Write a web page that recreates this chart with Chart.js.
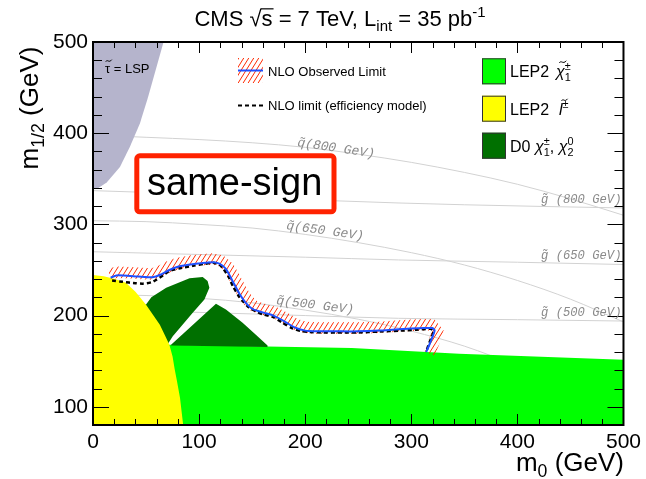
<!DOCTYPE html>
<html><head><meta charset="utf-8">
<script src="https://cdn.jsdelivr.net/npm/chart.js@4.4.1/dist/chart.umd.min.js"></script>
<style>html,body{margin:0;padding:0;background:#fff;}#wrap{width:646px;height:479px;}</style>
</head><body><div id="wrap"><canvas id="c" width="646" height="479"></canvas></div>
<script>
const FONT = '"Liberation Sans", Arial, Helvetica, sans-serif';
const MONO = '"Liberation Mono", "Courier New", monospace';

// ---- axes / ticks ----
const xTickLabels = [0, 100, 200, 300, 400, 500];
const yTickLabels = [100, 200, 300, 400, 500];
const xMinorTicks = [0,20,40,60,80,100,120,140,160,180,200,220,240,260,280,300,320,340,360,380,400,420,440,460,480,500];
const yMinorTicks = [80,100,120,140,160,180,200,220,240,260,280,300,320,340,360,380,400,420,440,460,480,500];

// ---- regions (m0, m1/2 in GeV) ----
const stauM0  = [0, 67.7, 60, 52, 44.2, 34.8, 25.4, 12.9, 5, 0];
const stauM12 = [505, 505, 473, 440, 410.6, 385, 363, 346, 340, 338.5];

const lepSlepM0  = [0, 0, 10, 20, 31, 40, 50, 57, 63, 68, 72, 75, 77, 79, 82, 85, 85];
const lepSlepM12 = [78, 244.5, 243, 240.5, 236, 226, 212, 200, 190, 178, 168, 155, 141, 129, 110, 80, 78];

const lepChiM0  = [62, 72, 244, 345, 500, 505, 505, 70];
const lepChiM12 = [168.5, 168, 164.4, 158.1, 151.5, 151.3, 78, 78];

const d0aM0  = [45, 50, 55, 69, 91, 103.4, 108, 109.7, 105, 94, 75.2, 70.5, 60];
const d0aM12 = [212, 212.1, 220.2, 230.5, 240.8, 242.2, 237.8, 230.5, 217.6, 203, 177.2, 168.8, 172];
const d0bM0  = [73.6, 115.9, 125.3, 141, 153.5, 164.5, 164.5, 73.6];
const d0bM12 = [168, 212.9, 206.6, 192, 179, 167.3, 165.5, 167.2];

// ---- limits ----
const obsM0  = [16.6, 22, 35, 50, 56, 63, 72, 80, 92, 102, 113, 119, 125, 131.5, 138, 144, 150, 157, 163, 170, 180, 190, 200, 210, 230, 250, 270, 285, 300, 312, 320, 322, 320, 317, 314];
const obsM12 = [241.5, 244, 243.5, 242.2, 242, 244.5, 250, 253.5, 256, 257.5, 258.5, 257, 251.5, 238, 224, 214, 207.5, 204.5, 202.5, 200, 194, 187, 183.5, 182.8, 182.7, 182.7, 183.5, 184.8, 185.8, 186.3, 186.3, 183.7, 177, 168, 160];
const effM0  = [18, 28, 40, 47, 55, 60, 66, 72, 82, 94, 104, 113, 119, 123, 128, 132, 137, 141, 147, 153.5, 161, 169, 178, 188, 196, 204, 215, 230, 250, 270, 290, 305, 318, 321, 319, 316, 314];
const effM12 = [238.5, 237, 235.5, 235, 236.5, 239.5, 244, 249, 252, 254.5, 256.5, 258, 256, 251, 242, 232, 222, 216, 209, 204.7, 201, 199, 192.5, 186, 183, 182, 181.5, 181.5, 181.5, 182.5, 183.5, 184.5, 185.5, 183, 176, 167, 160];

// ---- iso-mass contours ----
const sq800M0  = [30, 50, 100, 150, 200, 250, 300, 350, 400, 450, 500];
const sq800M12 = [396.5, 395.5, 393, 389.5, 384.5, 377, 368, 357, 344, 328, 310];
const sq650M0  = [0, 50, 100, 150, 200, 250, 300, 350, 400, 450, 500];
const sq650M12 = [304, 303, 300, 296, 289, 280, 269, 255.5, 238.5, 218, 193];
const sq500M0  = [0, 50, 100, 150, 200, 250, 300, 350, 400];
const sq500M12 = [223, 222, 219, 214, 206, 196, 183, 166.5, 145];
const gl800M0  = [0, 100, 225, 350, 500];
const gl800M12 = [337, 333, 326, 321.5, 318];
const gl650M0  = [0, 100, 200, 288, 400, 500];
const gl650M12 = [270, 267, 264, 261, 258.5, 256];
const gl500M0  = [0, 100, 200, 288, 400, 500];
const gl500M12 = [206, 203.5, 200, 197, 195.5, 194];

const pts = (a, b) => a.map((v, i) => ({x: v, y: b[i]}));

const hatchTile = (() => {
  const c = document.createElement('canvas'); c.width = 5; c.height = 8;
  const g = c.getContext('2d');
  g.strokeStyle = '#ff2a00'; g.lineWidth = 1;
  g.beginPath();
  for (const k of [-1, 0, 1]) { g.moveTo(5 * k, 8); g.lineTo(5 * k + 5, 0); }
  g.stroke();
  return c;
})();

function drawTilde(ctx, x, y, w) {
  ctx.save(); ctx.lineWidth = 1; ctx.strokeStyle = ctx.fillStyle;
  ctx.beginPath();
  ctx.moveTo(x, y + 1);
  ctx.bezierCurveTo(x + w * 0.3, y - 2, x + w * 0.5, y + 3, x + w, y - 1);
  ctx.stroke(); ctx.restore();
}

function drawRich(ctx, parts, x, y, size, align, fam) {
  fam = fam || FONT;
  const small = size * 0.68;
  const ws = parts.map(p => {
    ctx.font = (p.it ? 'italic ' : '') + size + 'px ' + fam;
    const w = p.t ? ctx.measureText(p.t).width : 0;
    ctx.font = small + 'px ' + fam;
    let s = 0;
    if (p.sub) s = Math.max(s, ctx.measureText(p.sub).width);
    if (p.sup) s = Math.max(s, ctx.measureText(p.sup).width);
    return {w, s};
  });
  const total = ws.reduce((a, b) => a + b.w + b.s, 0);
  let cx = align === 'center' ? x - total / 2 : align === 'right' ? x - total : x;
  ctx.textAlign = 'left'; ctx.textBaseline = 'alphabetic';
  parts.forEach((p, i) => {
    if (p.t) {
      ctx.font = (p.it ? 'italic ' : '') + size + 'px ' + fam;
      ctx.fillText(p.t, cx, y);
      if (p.over) {
        ctx.save(); ctx.lineWidth = 1.2; ctx.strokeStyle = ctx.fillStyle;
        ctx.beginPath(); ctx.moveTo(cx - 1, y - size * 0.78); ctx.lineTo(cx + ws[i].w + 1, y - size * 0.78); ctx.stroke();
        ctx.restore();
      }
      if (p.tilde) drawTilde(ctx, cx + ws[i].w * 0.15 + (p.it ? 2 : 0), y - size * p.tilde, Math.max(6, ws[i].w * 0.8));
      cx += ws[i].w;
    }
    ctx.font = small + 'px ' + fam;
    if (p.sub) ctx.fillText(p.sub, cx, y + size * 0.24);
    if (p.sup) ctx.fillText(p.sup, cx, y - size * 0.42);
    cx += ws[i].s;
  });
}

const hatchPlugin = {
  id: 'hatch',
  beforeDatasetDraw(chart, args) {
    if (chart.data.datasets[args.index].label !== 'NLO limit (efficiency model)') return;
    const {ctx, chartArea: a, scales: {x, y}} = chart;
    const P = obsM0.map((m, i) => ({x: x.getPixelForValue(m), y: y.getPixelForValue(obsM12[i])}));
    const N = P.map((p, i) => {
      const s = P[Math.max(0, i - 1)], e = P[Math.min(P.length - 1, i + 1)];
      const dx = e.x - s.x, dy = e.y - s.y, l = Math.hypot(dx, dy) || 1;
      return {x: dy / l, y: -dx / l};
    });
    ctx.save();
    ctx.beginPath(); ctx.rect(a.left, a.top, a.right - a.left, a.bottom - a.top); ctx.clip();
    ctx.beginPath();
    P.forEach((p, i) => { const X = p.x - N[i].x * 2.5, Y = p.y - N[i].y * 2.5; i ? ctx.lineTo(X, Y) : ctx.moveTo(X, Y); });
    for (let i = P.length - 1; i >= 0; i--) ctx.lineTo(P[i].x + N[i].x * 9, P[i].y + N[i].y * 9);
    ctx.closePath();
    ctx.fillStyle = ctx.createPattern(hatchTile, 'repeat');
    ctx.fill();
    ctx.restore();
  }
};

const framePlugin = {
  id: 'frame',
  afterDatasetsDraw(chart) {
    const {ctx, chartArea: a, scales: {x, y}} = chart;
    ctx.save();
    ctx.strokeStyle = '#000';
    ctx.lineWidth = 1;
    ctx.beginPath();
    xMinorTicks.forEach(v => {
      const px = Math.round(x.getPixelForValue(v)) + 0.5, L = v % 100 === 0 ? 11 : 6;
      ctx.moveTo(px, a.bottom); ctx.lineTo(px, a.bottom - L);
      ctx.moveTo(px, a.top); ctx.lineTo(px, a.top + L);
    });
    yMinorTicks.forEach(v => {
      const py = Math.round(y.getPixelForValue(v)) + 0.5, L = v % 100 === 0 ? 16 : 9;
      ctx.moveTo(a.left, py); ctx.lineTo(a.left + L, py);
      ctx.moveTo(a.right, py); ctx.lineTo(a.right - L, py);
    });
    ctx.stroke();
    ctx.lineWidth = 2;
    ctx.strokeRect(a.left, a.top, a.right - a.left, a.bottom - a.top);
    ctx.restore();
  }
};

const textPlugin = {
  id: 'texts',
  afterDraw(chart) {
    const ctx = chart.ctx;
    ctx.save();
    // iso-mass labels
    ctx.fillStyle = '#8a8a8a';
    const iso = [
      ['q\u0303(800 GeV)', 297, 146, 8.5, 13],
      ['q\u0303(650 GeV)', 286, 229, 8, 13],
      ['q\u0303(500 GeV)', 276, 304, 7, 13],
      ['g\u0303 (800 GeV)', 541, 203, 0, 12.2],
      ['g\u0303 (650 GeV)', 541, 259, 0, 12.2],
      ['g\u0303 (500 GeV)', 541, 316, 0, 12.2]
    ];
    iso.forEach(([t, X, Y, r, fs]) => {
      ctx.save(); ctx.translate(X, Y); ctx.rotate(r * Math.PI / 180);
      ctx.font = 'italic ' + fs + 'px ' + MONO; ctx.textAlign = 'left'; ctx.textBaseline = 'alphabetic';
      ctx.fillText(t, 0, 0); ctx.restore();
    });
    // stau label
    ctx.fillStyle = '#000';
    drawRich(ctx, [{t: '\u03C4', tilde: 0.95}, {t: ' = LSP'}], 105, 73, 13, 'left');
    // same-sign box
    ctx.fillStyle = '#fff'; ctx.strokeStyle = '#ff2200'; ctx.lineWidth = 5;
    ctx.beginPath(); ctx.roundRect(136.8, 155.8, 197.2, 56, 3); ctx.fill(); ctx.stroke();
    ctx.fillStyle = '#000'; ctx.font = '38px ' + FONT; ctx.textAlign = 'left'; ctx.textBaseline = 'alphabetic';
    ctx.fillText('same-sign', 147, 195);
    // middle legend
    ctx.fillStyle = ctx.createPattern(hatchTile, 'repeat');
    ctx.fillRect(238, 58, 25, 25);
    ctx.strokeStyle = '#1f4fff'; ctx.lineWidth = 2;
    ctx.beginPath(); ctx.moveTo(238, 70.5); ctx.lineTo(263, 70.5); ctx.stroke();
    ctx.strokeStyle = '#000'; ctx.lineWidth = 2; ctx.setLineDash([4, 3]);
    ctx.beginPath(); ctx.moveTo(238, 105.5); ctx.lineTo(263, 105.5); ctx.stroke();
    ctx.setLineDash([]);
    ctx.fillStyle = '#000'; ctx.font = '13px ' + FONT;
    ctx.fillText('NLO Observed Limit', 268, 76);
    ctx.fillText('NLO limit (efficiency model)', 268, 110);
    // right legend
    const boxes = [['#00ff00', 58.3], ['#ffff00', 95.7], ['#007000', 132.7]];
    boxes.forEach(([c, Y]) => {
      ctx.fillStyle = c; ctx.fillRect(482, Y, 24, 26);
      ctx.strokeStyle = '#333'; ctx.lineWidth = 1; ctx.strokeRect(482.5, Y + 0.5, 23, 25);
    });
    ctx.fillStyle = '#000';
    drawRich(ctx, [{t: 'LEP2'}], 510, 77, 16, 'left');
    drawRich(ctx, [{t: '\u03C7', it: true, tilde: 0.95, sub: '1', sup: '\u00B1'}], 556, 77, 16, 'left');
    drawRich(ctx, [{t: 'LEP2'}], 510, 115, 16, 'left');
    drawRich(ctx, [{t: 'l', it: true, tilde: 0.95, sup: '\u00B1'}], 559, 115, 16, 'left');
    drawRich(ctx, [{t: 'D0'}], 510, 152, 16, 'left');
    drawRich(ctx, [{t: '\u03C7', it: true, sub: '1', sup: '\u00B1'}, {t: ', '}, {t: '\u03C7', it: true, sub: '2', sup: '0'}], 535, 152, 16, 'left');
    // title
    drawRich(ctx, [{t: 'CMS '}, {t: '\u221A'}, {t: 's', over: true}, {t: ' = 7 TeV, L', sub: 'int'}, {t: ' = 35 pb', sup: '-1'}], 340, 26, 22, 'center');
    // axis titles
    drawRich(ctx, [{t: 'm', sub: '0'}, {t: ' (GeV)'}], 624, 471, 26, 'right');
    ctx.save(); ctx.translate(38, 108); ctx.rotate(-Math.PI / 2);
    drawRich(ctx, [{t: 'm', sub: '1/2'}, {t: ' (GeV)'}], 0, 0, 26, 'center');
    ctx.restore();
    ctx.restore();
  }
};

const bgPlugin = {
  id: 'bg',
  beforeDraw(chart) { const c = chart.ctx; c.save(); c.fillStyle = '#fff'; c.fillRect(0, 0, chart.width, chart.height); c.restore(); }
};

const poly = (label, a, b, color, order) => ({label, data: pts(a, b), fill: 'shape', backgroundColor: color, borderWidth: 0, pointRadius: 0, tension: 0, order});
const iso = (label, a, b) => ({label, data: pts(a, b), fill: false, borderColor: '#d2d2d2', borderWidth: 1, pointRadius: 0, cubicInterpolationMode: 'monotone', order: 10});

new Chart(document.getElementById('c'), {
  type: 'line',
  data: {
    datasets: [
      {label: 'NLO Observed Limit', data: pts(obsM0, obsM12), borderColor: '#1f4fff', borderWidth: 2, pointRadius: 0, tension: 0.25, fill: false, order: 1},
      {label: 'NLO limit (efficiency model)', data: pts(effM0, effM12), borderColor: '#000', borderWidth: 2.5, borderDash: [4, 3], pointRadius: 0, tension: 0.25, fill: false, order: 2},
      poly('LEP2 slepton', lepSlepM0, lepSlepM12, '#ffff00', 4),
      poly('D0 a', d0aM0, d0aM12, '#007000', 5),
      poly('D0 b', d0bM0, d0bM12, '#007000', 5),
      poly('LEP2 chargino', lepChiM0, lepChiM12, '#00ff00', 7),
      poly('stau LSP', stauM0, stauM12, '#b5b4cc', 8),
      iso('sq800', sq800M0, sq800M12),
      iso('sq650', sq650M0, sq650M12),
      iso('sq500', sq500M0, sq500M12),
      iso('gl800', gl800M0, gl800M12),
      iso('gl650', gl650M0, gl650M12),
      iso('gl500', gl500M0, gl500M12)
    ]
  },
  options: {
    responsive: false, animation: false, devicePixelRatio: 1, events: [],
    layout: {padding: {top: 42, right: 20, left: 0, bottom: 0}},
    plugins: {legend: {display: false}, tooltip: {enabled: false}},
    scales: {
      x: {type: 'linear', min: 0, max: 500,
        afterBuildTicks: s => { s.ticks = xTickLabels.map(v => ({value: v})); },
        afterFit: s => { s.height = 54; },
        grid: {display: false, drawTicks: false}, border: {display: false},
        ticks: {font: {family: FONT, size: 21}, color: '#000', padding: 5, maxRotation: 0}},
      y: {type: 'linear', min: 80, max: 500,
        afterBuildTicks: s => { s.ticks = yTickLabels.map(v => ({value: v})); },
        afterFit: s => { s.width = 93; },
        grid: {display: false, drawTicks: false}, border: {display: false},
        ticks: {font: {family: FONT, size: 21}, color: '#000', padding: 5}}
    }
  },
  plugins: [bgPlugin, hatchPlugin, framePlugin, textPlugin]
});
</script></body></html>
